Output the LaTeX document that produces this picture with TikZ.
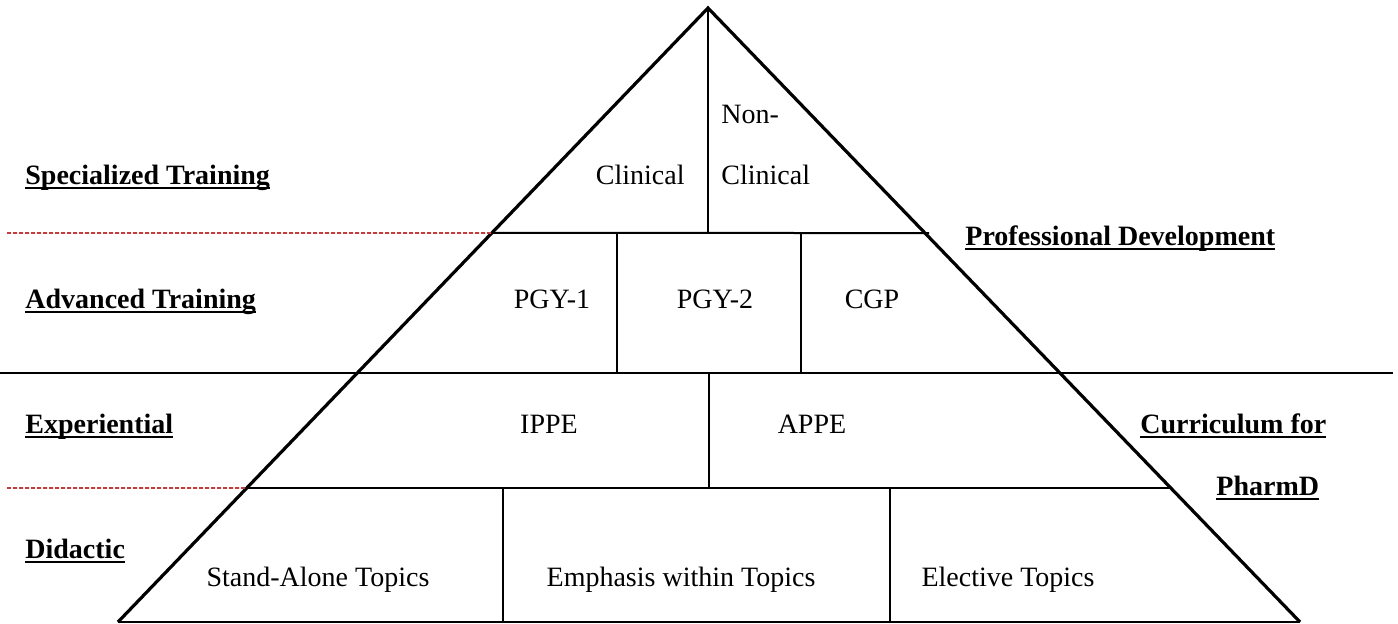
\documentclass[tikz,border=0pt]{standalone}
\usepackage{fontspec}
\setmainfont{Liberation Serif}
\usetikzlibrary{calc}
\definecolor{dashred}{RGB}{196,60,60}
\newcommand{\ulbf}[1]{\setbox0\hbox{\bfseries #1}\rlap{\rule[-2.3pt]{\wd0}{1pt}}\box0}

\begin{document}
\begin{tikzpicture}[x=0.5pt,y=-0.5pt,
        every node/.style={inner sep=0pt,font=\fontsize{14}{17}\selectfont},
        side/.style={line width=1.6pt},
        level/.style={line width=1pt},
        cell/.style={line width=0.75pt},
        guide/.style={dashred,line width=0.8pt,dash pattern=on 2pt off 1pt},
        cat/.style={anchor=base west},
        item/.style={anchor=base}]
    \useasboundingbox (0,0) rectangle (1398,623);

    % pyramid corners and level points
    \coordinate (apex) at (708,8);
    \coordinate (bl) at (118,622);
    \coordinate (br) at (1300,622);
    \coordinate (l1) at ($(apex)!0.3664!(bl)$);
    \coordinate (l3) at ($(apex)!0.7818!(bl)$);
    \coordinate (r3) at ($(apex)!0.7818!(br)$);
    \coordinate (r1) at (929,233);
    \coordinate (g1) at (7,233);
    \coordinate (g3) at (7,488);
    \coordinate (w0) at (0,373);
    \coordinate (w1) at (1393,373);

    \draw[side] (bl) -- (apex) -- (br);
    \draw[level] (l1) -- (r1);
    \draw[level] (w0) -- (w1);
    \draw[level] (l3) -- (r3);
    \draw[level] (bl) -- (br);
    \draw[guide] (g1) -- (l1);
    \draw[guide] (g3) -- (l3);

    % cell borders
    \draw[cell] (apex) -- (708,233);
    \draw[cell] (617,233) -- (617,373);
    \draw[cell] (801,233) -- (801,373);
    \draw[cell] (709,373) -- (709,488);
    \draw[cell] (503,488) -- (503,622);
    \draw[cell] (890,488) -- (890,622);

    % side labels
    \node[cat] (spec) at (25,184) {\ulbf{Specialized Training}};
    \node[cat] (adv) at (25,308) {\ulbf{Advanced Training}};
    \node[cat] (exp) at (25,433) {\ulbf{Experiential}};
    \node[cat] (did) at (25,558) {\ulbf{Didactic}};
    \node[cat] (prof) at (965,245) {\ulbf{Professional Development}};
    \node[cat] (curr) at (1140,433) {\ulbf{Curriculum for}};
    \node[cat] (pharm) at (1216,495) {\ulbf{PharmD}};

    % cell labels
    \node[anchor=base east] (clin) at (685,184) {Clinical};
    \node[cat] (non) at (721,123) {Non-};
    \node[cat] (nonclin) at (721,184) {Clinical};
    \node[item] (pgy1) at (552,308) {PGY-1};
    \node[item] (pgy2) at (715,308) {PGY-2};
    \node[item] (cgp) at (872,308) {CGP};
    \node[item] (ippe) at (549,433) {IPPE};
    \node[item] (appe) at (812,433) {APPE};
    \node[item] (stand) at (318,586) {Stand-Alone Topics};
    \node[item] (emph) at (681,586) {Emphasis within Topics};
    \node[item] (elec) at (1008,586) {Elective Topics};
\end{tikzpicture}
\end{document}
